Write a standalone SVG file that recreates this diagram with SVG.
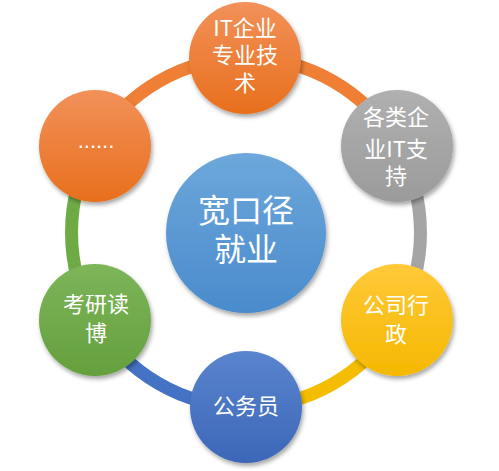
<svg xmlns="http://www.w3.org/2000/svg" width="499" height="471" viewBox="0 0 499 471">
<defs>
<style>
.ring{fill:none;stroke-width:13;stroke-linecap:butt}
.t{fill:#fff;font-family:"Noto Sans CJK SC","Noto Sans",sans-serif;font-size:22px;text-anchor:middle}
.tc{font-size:32px}
.n{filter:url(#sh)}
</style>
<filter id="sh" x="-20%" y="-20%" width="150%" height="150%">
<feDropShadow dx="1.5" dy="3" stdDeviation="2" flood-color="#000" flood-opacity="0.35"/>
</filter>
<linearGradient id="gO" x1="0" y1="0" x2="0" y2="1"><stop offset="0" stop-color="#F2915A"/><stop offset="1" stop-color="#E86F1C"/></linearGradient>
<linearGradient id="gG" x1="0" y1="0" x2="0" y2="1"><stop offset="0" stop-color="#B0B0B0"/><stop offset="1" stop-color="#9B9B9B"/></linearGradient>
<linearGradient id="gY" x1="0" y1="0" x2="0" y2="1"><stop offset="0" stop-color="#FFC93A"/><stop offset="1" stop-color="#F5B800"/></linearGradient>
<linearGradient id="gB" x1="0" y1="0" x2="0" y2="1"><stop offset="0" stop-color="#5A84CE"/><stop offset="1" stop-color="#3C67B8"/></linearGradient>
<linearGradient id="gN" x1="0" y1="0" x2="0" y2="1"><stop offset="0" stop-color="#7DB55A"/><stop offset="1" stop-color="#64A03D"/></linearGradient>
<linearGradient id="gC" x1="0" y1="0" x2="0" y2="1"><stop offset="0" stop-color="#6DA7DB"/><stop offset="1" stop-color="#4A8BCC"/></linearGradient>
</defs>
<rect width="499" height="471" fill="#fff"/>
<g id="connectors">
<path class="ring" stroke="#EE7F35" d="M246 58 A174.5 174.5 0 0 1 397.1 145.25"/>
<path class="ring" stroke="#A5A5A5" d="M397.1 145.25 A174.5 174.5 0 0 1 397.1 319.75"/>
<path class="ring" stroke="#F5BD00" d="M397.1 319.75 A174.5 174.5 0 0 1 246 407"/>
<path class="ring" stroke="#4472C4" d="M246 407 A174.5 174.5 0 0 1 94.9 319.75"/>
<path class="ring" stroke="#6EAB45" d="M94.9 319.75 A174.5 174.5 0 0 1 94.9 145.25"/>
<path class="ring" stroke="#EE7F35" d="M94.9 145.25 A174.5 174.5 0 0 1 246 58"/>
</g>
<g id="center">
<circle class="n" cx="246" cy="233" r="80" fill="url(#gC)"/>
<text class="t tc" x="246" y="222">宽口径<tspan x="246" dy="39">就业</tspan></text>
</g>
<g id="node-it">
<circle class="n" cx="245" cy="58" r="56" fill="url(#gO)"/>
<text class="t" x="245" y="35.5">IT企业<tspan x="245" dy="27.5">专业技</tspan><tspan x="245" dy="28">术</tspan></text>
</g>
<g id="node-support">
<circle class="n" cx="397" cy="146" r="56" fill="url(#gG)"/>
<text class="t" x="396" y="125">各类企<tspan x="396" dy="32">业IT支</tspan><tspan x="396" dy="27">持</tspan></text>
</g>
<g id="node-admin">
<circle class="n" cx="397" cy="320" r="56" fill="url(#gY)"/>
<text class="t" x="396" y="313">公司行<tspan x="396" dy="29">政</tspan></text>
</g>
<g id="node-civil">
<circle class="n" cx="246" cy="407" r="56" fill="url(#gB)"/>
<text class="t" x="246" y="414">公务员</text>
</g>
<g id="node-study">
<circle class="n" cx="95" cy="320" r="56" fill="url(#gN)"/>
<text class="t" x="96" y="312">考研读<tspan x="96" dy="29">博</tspan></text>
</g>
<g id="node-more">
<circle class="n" cx="95" cy="146" r="56" fill="url(#gO)"/>
<text class="t" x="96" y="148" style="font-family:'Liberation Sans',sans-serif">......</text>
</g>
</svg>
